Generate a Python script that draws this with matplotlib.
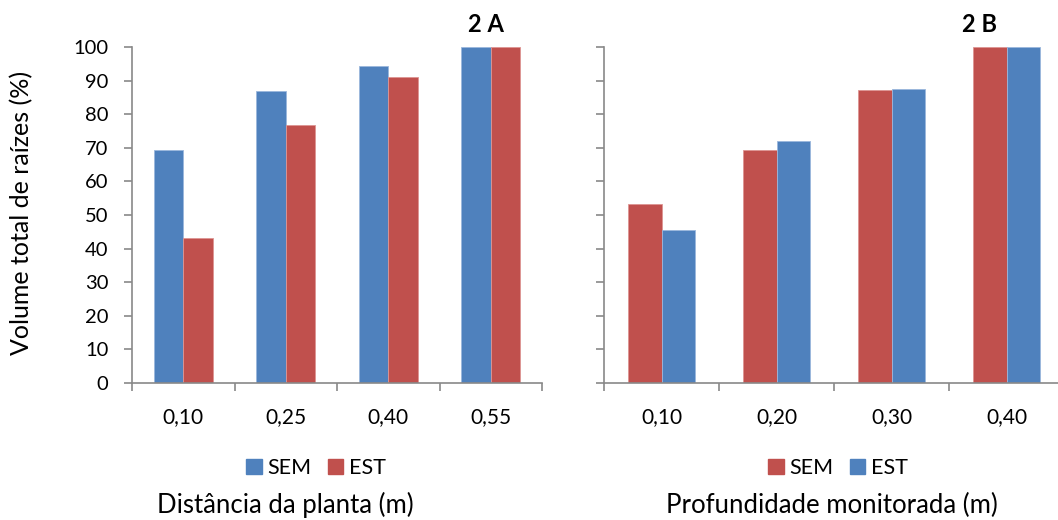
import matplotlib
matplotlib.use("Agg")
import matplotlib.pyplot as plt
import numpy as np
from matplotlib.patches import Patch

plt.rcParams['font.family'] = ['Lato', 'DejaVu Sans']

# Panel A: distance from the plant
dist_labels = ['0,10', '0,25', '0,40', '0,55']
dist_sem = [69.2, 86.9, 94.4, 100]
dist_est = [43.2, 76.8, 91.0, 100]

# Panel B: monitored depth
depth_labels = ['0,10', '0,20', '0,30', '0,40']
depth_sem = [53.3, 69.2, 87.1, 100]
depth_est = [45.4, 71.9, 87.5, 100]

blue = '#4F81BD'
red = '#C0504D'
axis_gray = '#898989'

W, H = 1058, 520
fig = plt.figure(figsize=(W / 100, H / 100), dpi=100)
ax_a = fig.add_axes([132 / W, 1 - 383 / H, 410 / W, 336 / H])
ax_b = fig.add_axes([604 / W, 1 - 383 / H, 460 / W, 336 / H])


def style_axis(ax, labels, show_ylabels):
    n = len(labels)
    ax.set_xlim(-0.5, n - 0.5)
    ax.set_ylim(0, 100)
    ax.set_yticks(np.arange(0, 101, 10))
    ax.set_xticks(np.arange(n))
    ax.set_xticklabels(labels, fontsize=15)
    ax.set_xticks(np.arange(n + 1) - 0.5, minor=True)
    ax.tick_params(axis='x', which='major', length=0, pad=17)
    ax.tick_params(axis='x', which='minor', length=6, width=1.2, color=axis_gray, direction='out')
    ax.tick_params(axis='y', length=6, width=1.2, color=axis_gray, direction='out',
                   labelsize=14.5, labelleft=show_ylabels, pad=11)
    for s in ['top', 'right']:
        ax.spines[s].set_visible(False)
    for s in ['left', 'bottom']:
        ax.spines[s].set_color(axis_gray)
        ax.spines[s].set_linewidth(1.2)


def add_legend(handles, xc):
    fig.legend(handles=handles, loc='center', bbox_to_anchor=(xc / W, 1 - 468 / H),
               ncol=2, frameon=False, fontsize=15.5, handlelength=0.7,
               handleheight=0.7, handletextpad=0.25, columnspacing=0.8,
               borderpad=0, borderaxespad=0)


# Panel A
x = np.arange(len(dist_labels))
w = 0.288
ax_a.bar(x - w / 2, dist_sem, w, color=blue, edgecolor='#9bb7dc', linewidth=0.6)
ax_a.bar(x + w / 2, dist_est, w, color=red, edgecolor='#dd9593', linewidth=0.6)
style_axis(ax_a, dist_labels, True)
fig.text(486 / W, 1 - 24 / H, '2 A', ha='center', va='center', fontsize=17, fontweight='bold')
add_legend([Patch(color=blue, label='SEM'), Patch(color=red, label='EST')], 316)
fig.text(285 / W, 1 - 505 / H, 'Distância da planta (m)', ha='center', va='center', fontsize=18.5)
fig.text(22 / W, 1 - 213 / H, 'Volume total de raízes (%)', ha='center', va='center',
         rotation=90, fontsize=18)

# Panel B
x = np.arange(len(depth_labels))
w = 0.29
ax_b.bar(x - w / 2, depth_sem, w, color=red, edgecolor='#dd9593', linewidth=0.6)
ax_b.bar(x + w / 2, depth_est, w, color=blue, edgecolor='#9bb7dc', linewidth=0.6)
style_axis(ax_b, depth_labels, False)
fig.text(979 / W, 1 - 24 / H, '2 B', ha='center', va='center', fontsize=17, fontweight='bold')
add_legend([Patch(color=red, label='SEM'), Patch(color=blue, label='EST')], 838)
fig.text(832 / W, 1 - 505 / H, 'Profundidade monitorada (m)', ha='center', va='center', fontsize=18.5)

fig.savefig('out.png', dpi=100)
